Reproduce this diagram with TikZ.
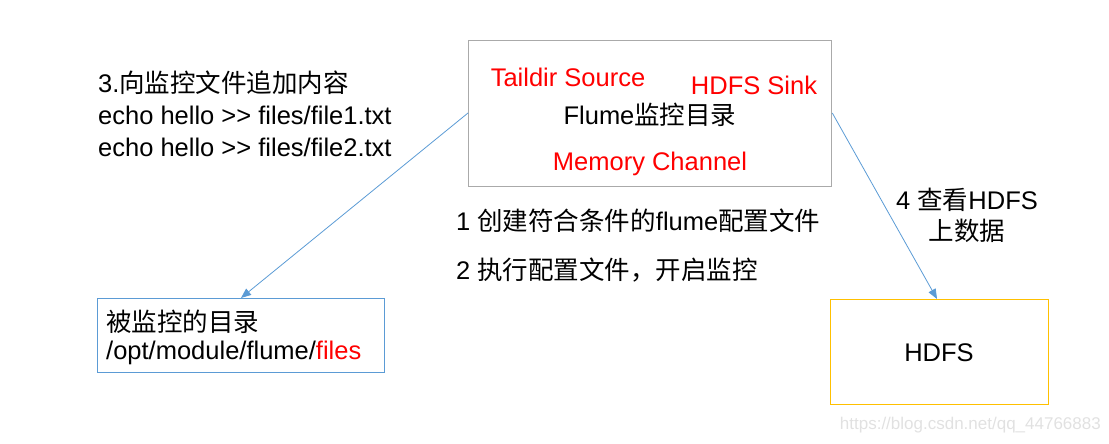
\documentclass[tikz,border=0pt]{standalone}
\usepackage{fontspec}
\setmainfont{Liberation Sans}
\newfontfamily\cjk{Noto Sans CJK SC}
\usetikzlibrary{arrows.meta}
\definecolor{boxgray}{RGB}{170,170,170}
\definecolor{boxblue}{RGB}{91,155,213}
\definecolor{boxorange}{RGB}{255,192,0}
\definecolor{txtred}{RGB}{255,0,0}
\definecolor{wm}{RGB}{225,225,225}
\tikzset{
  lbl/.style={font=\fontsize{25.5}{30}\selectfont, inner sep=0pt},
  red lbl/.style={lbl, text=txtred},
  conn/.style={draw=boxblue, line width=0.8pt, -{Triangle[length=10pt,width=8pt]}},
}
\begin{document}
\begin{tikzpicture}[x=1pt,y=-1pt]
\useasboundingbox (0,0) rectangle (1109,444);
% boxes
\node[draw=boxgray, line width=1.3pt, minimum width=363pt, minimum height=146pt, inner sep=0pt, anchor=north west] (flume) at (468,40) {};
\node[draw=boxblue, line width=1.3pt, minimum width=287pt, minimum height=74pt, inner sep=0pt, anchor=north west] (dir) at (97,298) {};
\node[draw=boxorange, line width=1.3pt, minimum width=218pt, minimum height=105pt, inner sep=0pt, anchor=north west] (hdfs) at (830,299) {};
% texts in flume box
\node[red lbl] (src) at (568,77) {Taildir Source};
\node[red lbl] (sink) at (754,85) {HDFS Sink};
\node[lbl] (ft) at (650,115) {Flume{\cjk 监控目录}};
\node[red lbl] (ch) at (650,164) {Memory Channel};
% left text
\node[lbl, anchor=west] (t3) at (98,83) {3.{\cjk 向监控文件追加内容}};
\node[lbl, anchor=west] (e1) at (98,115) {echo hello >{}> files/file1.txt};
\node[lbl, anchor=west] (e2) at (98,147) {echo hello >{}> files/file2.txt};
% middle text
\node[lbl, anchor=west] (s1) at (456,221) {1 {\cjk 创建符合条件的}flume{\cjk 配置文件}};
\node[lbl, anchor=west] (s2) at (456,270) {2 {\cjk 执行配置文件，开启监控}};
% right text
\node[lbl] (s4a) at (967,200) {4 {\cjk 查看}HDFS};
\node[lbl] (s4b) at (967,231) {\cjk 上数据};
% dir box text
\node[lbl, anchor=west] (d1) at (106,322) {\cjk 被监控的目录};
\node[lbl, anchor=west] (d2) at (106,353) {/opt/module/flume/\textcolor{txtred}{files}};
% hdfs text
\node[lbl] (ht) at (939,353) {HDFS};
% watermark
\node[font=\fontsize{17}{19}\selectfont, text=wm, inner sep=0pt, anchor=east] (wmk) at (1101,425) {https://blog.csdn.net/qq\_44766883};
% connectors
\draw[conn] (flume.west |- 0,113) -- (dir.north -| 241,0);
\draw[conn] (flume.east |- 0,113) -- (hdfs.north -| 937,0);
\end{tikzpicture}
\end{document}
